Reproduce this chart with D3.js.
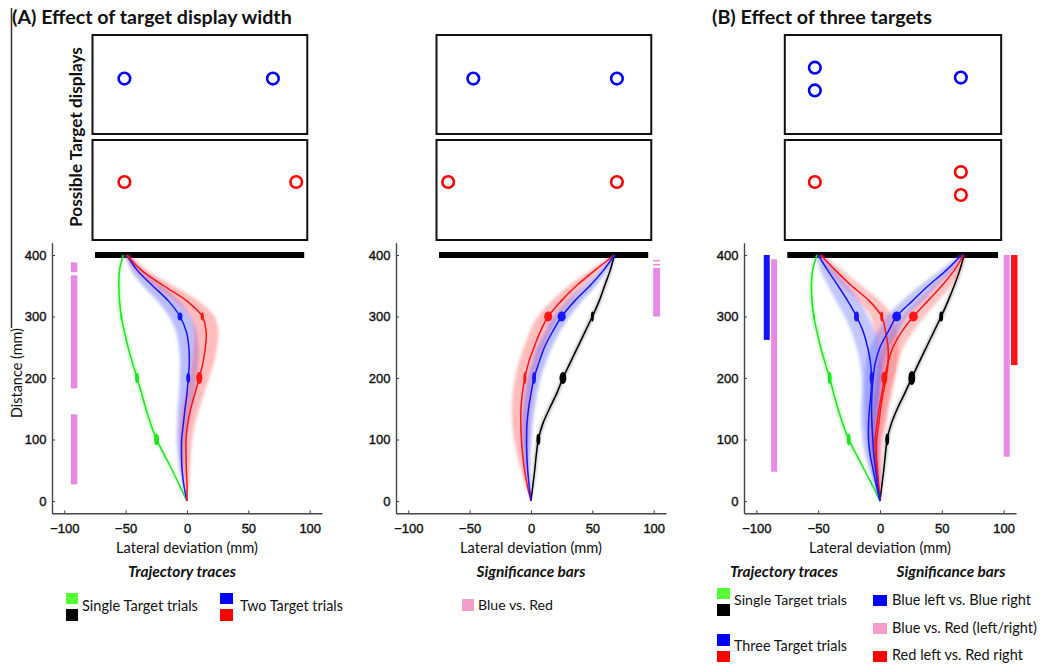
<!DOCTYPE html>
<html><head><meta charset="utf-8">
<script src="https://cdn.jsdelivr.net/npm/d3@7"></script>
<style>body{margin:0;background:#fff}svg{display:block}</style>
</head><body>
<svg id="c" width="1041" height="665"></svg>
<script>
// ---------- DATA ----------
const distances = [0,25,50,75,100,125,150,175,200,225,250,275,300,325,350,375,400];
const xTicks = [-100,-50,0,50,100];
const yTicks = [0,100,200,300,400];

// Panel A (left): single vs two targets
const greenA = [0,-6,-12,-18.5,-24.8,-29.5,-33.5,-37,-40.7,-44.5,-48,-51,-53.5,-55,-55.5,-55,-52];
const blueA  = [0,-2.5,-4,-4.5,-4.4,-3,-1.6,0,1,1.9,1.5,-0.5,-5.7,-15,-28,-40.5,-49];
const redA   = [0,0,-0.5,-0.8,-0.8,0.5,3,6.5,10,13,15,15.6,12.5,0,-19,-37,-49];
const blueAci = [0,1,2,3,4,5,6,6.5,7,7.5,8,8.5,9,9,8,5,2];
const redAci  = [0,1.5,3,4,5,6,7,7.5,8,9,9.5,10,10,9.5,8,5,2];

// Panel A (right)
const blackM = [0,1.5,3,4.3,6,9.5,15,21,26,32,38,44,50,55.5,60,64.5,68];
const redM   = [0,-3,-5.2,-6.8,-7.8,-8.3,-8.2,-7,-5,-2,2.5,7.5,14,24.5,37,52,68];
const blueM  = [0,-1.5,-2.7,-3.4,-3.6,-3.3,-2,0,2.5,6.5,11,17.5,25,35.5,48,59,68];
const redMci  = [0,1.5,3,4.5,6,7,7.5,8,8,8,8.5,8.5,8.5,8,6,4,1];
const blueMci = [0,1,2,3,4,4.5,5,5,5.5,5.5,6,6,6.5,6,5,3,1];

// Panel B
const greenB = [0,-6,-12.5,-19,-25.3,-30,-34,-37.5,-40.7,-44.5,-48,-51,-53.5,-55,-55.5,-54.5,-51];
const blackB = [0,1.5,3,4.3,5.8,9,14,20,25.7,31.5,37.5,43.5,49.5,55,60,64.5,68];
const blueLB = [0,-3,-5.5,-8,-9.3,-9.3,-8.5,-7.3,-6.8,-7.7,-10,-13.5,-19,-26,-34,-42.3,-50];
const blueRB = [0,-2,-3.5,-5,-5.8,-6.5,-6.8,-6.5,-5.5,-3.8,0,6.5,13.5,26,39,53.5,66];
const redLB  = [0,-1,-2,-2.8,-2.7,-1,0.5,2.5,5,6.5,6.5,4.5,1.4,-8.5,-23,-36,-48];
const redRB  = [0,-1.2,-2.5,-3.5,-4,-2.5,-0.8,1.5,3.5,6.5,10.5,17.5,27,38.5,50,60,67.5];
const blueLBci = [0,1.5,3,4,5,6,7,7.5,8,8.5,9,9.5,9.5,9.5,8,6,2];
const blueRBci = [0,1.5,3,4,5,5.5,6,6.5,7,7.5,8,8.5,8.5,8.5,7,5,2];
const redLBci  = [0,1.5,3,4,5,6,6.5,7,7.5,8,8.5,9,9,9,8,6,2];
const redRBci  = [0,1.5,3,4,5,6,6.5,7,7.5,8,8.5,9,9,8.5,7.5,5.5,2];
const singleCi = [0,0.8,1,1.2,1.3,1.4,1.5,1.5,1.5,1.5,1.5,1.5,1.5,1.4,1.3,1.1,0.8];

// Marker spreads at 100/200/300 mm: [distance, sdX (mm), sdY (mm)]
const greenAmk = [[100,2.0,9.8],[200,1.6,8.1],[300,0.8,4.9]];
const blueAmk  = [[200,1.6,8.1],[300,2.0,6.5]];
const redAmk   = [[200,2.5,9.8],[300,1.2,6.5]];
const blackMmk = [[100,1.6,8.9],[200,2.8,9.8],[300,1.2,8.1]];
const redMmk   = [[200,1.2,9.8],[300,3.3,8.1]];
const blueMmk  = [[200,1.6,9.8],[300,3.3,8.1]];
const greenBmk = [[100,1.6,9.8],[200,1.6,9.8],[300,0.8,5]];
const blackBmk = [[100,1.6,9.8],[200,2.8,11.4],[300,1.6,8.1]];
const blueLBmk = [[200,1.6,10.5],[300,2.0,8.1]];
const redLBmk  = [[300,1.2,8.1]];
const blueRBmk = [[300,3.6,8.1]];
const redRBmk  = [[200,2.4,10.5],[300,3.6,8.1]];

// Significance bars: [lateral position, from distance, to distance]
const sigPinkA = [[-92,388,372],[-92,367,183],[-92,141,27]];
const sigPinkM = [[102.4,392,389.5],[102.4,385.5,383],[102.4,379,300]];
const sigBlueB = [[-91.6,400,262]];
const sigPinkB = [[-85.6,393,47.6],[102.5,400,72]];
const sigRedB  = [[108.6,400,221]];

// Start bar (lateral extent at 400 mm)
const startBar = [-75,95.5];
// Target display box extent (mm) and targets [lateral mm, % of box height]
const boxExtent = [-77,98];
const targetsA_blue = [[-51,44],[70,44]];
const targetsA_red  = [[-51,42],[89,42]];
const targetsM_blue = [[-47,44],[70,44]];
const targetsM_red  = [[-67.5,42],[70,42]];
const targetsB_blue = [[-52.7,33],[-52.7,56],[65.4,43]];
const targetsB_red  = [[-52.7,42],[65.4,32],[65.4,55]];

// ---------- STYLE ----------
const C = {green:'#1ee61e', black:'#000', blue:'#1414ff', red:'#ff1414',
  blueBand:'#5a64ff', redBand:'#ff5a5a', sigPink:'#e68ae6', legPink:'#f59ccb', greenSw:'#55ff33'};
const TXT = 'Lato, "Open Sans", sans-serif';
const NUM = '"Liberation Sans", Arial, sans-serif';

const svg = d3.select('#c');
svg.append('rect').attr('width',1041).attr('height',665).attr('fill','#fff');
const defs = svg.append('defs');
defs.append('filter').attr('id','blur').attr('x','-50%').attr('y','-10%').attr('width','200%').attr('height','120%')
  .append('feGaussianBlur').attr('stdDeviation',1.6);
defs.append('filter').attr('id','soft').attr('x','-50%').attr('y','-10%').attr('width','200%').attr('height','120%')
  .append('feGaussianBlur').attr('stdDeviation',0.45);

const yS = d3.scaleLinear().domain([-20,420]).range([513.3,242.7]);
const boxRows = [[35,134],[140,240]];

function fit(sel, w){
  const n = sel.node(); const fs = parseFloat(sel.attr('font-size'));
  const cur = n.getComputedTextLength(); sel.attr('font-size', (fs*w/cur).toFixed(2));
  return sel;
}

const panels = [
 {range:[52,322], series:[
   {x:greenA, ci:singleCi, c:C.green, band:C.green, bo:0.3, mk:greenAmk},
   {x:blueA, ci:blueAci, c:C.blue, band:C.blueBand, bo:0.42, mk:blueAmk},
   {x:redA, ci:redAci, c:C.red, band:C.redBand, bo:0.4, mk:redAmk}],
  sig:[[sigPinkA,C.sigPink,6.5]], tBlue:targetsA_blue, tRed:targetsA_red},
 {range:[396,666], series:[
   {x:blackM, ci:singleCi, c:C.black, band:'#000', bo:0.3, mk:blackMmk},
   {x:redM, ci:redMci, c:C.red, band:C.redBand, bo:0.4, mk:redMmk},
   {x:blueM, ci:blueMci, c:C.blue, band:C.blueBand, bo:0.42, mk:blueMmk}],
  sig:[[sigPinkM,C.sigPink,7]], tBlue:targetsM_blue, tRed:targetsM_red},
 {range:[744,1016], series:[
   {x:greenB, ci:singleCi, c:C.green, band:C.green, bo:0.3, mk:greenBmk},
   {x:blackB, ci:singleCi, c:C.black, band:'#000', bo:0.3, mk:blackBmk},
   {x:redLB, ci:redLBci, c:C.red, band:C.redBand, bo:0.36, mk:redLBmk},
   {x:redRB, ci:redRBci, c:C.red, band:C.redBand, bo:0.36, mk:redRBmk},
   {x:blueLB, ci:blueLBci, c:C.blue, band:C.blueBand, bo:0.36, mk:blueLBmk},
   {x:blueRB, ci:blueRBci, c:C.blue, band:C.blueBand, bo:0.36, mk:blueRBmk}],
  sig:[[sigBlueB,C.blue,6],[sigPinkB,C.sigPink,6],[sigRedB,C.red,6.5]], tBlue:targetsB_blue, tRed:targetsB_red}
];

panels.forEach(p=>{
  const xS = d3.scaleLinear().domain([-110,110]).range(p.range);
  const g = svg.append('g');
  // target display boxes
  boxRows.forEach((r,i)=>{
    g.append('rect').attr('x',xS(boxExtent[0])).attr('y',r[0])
      .attr('width',xS(boxExtent[1])-xS(boxExtent[0])).attr('height',r[1]-r[0])
      .attr('fill','none').attr('stroke','#111').attr('stroke-width',2);
    const dy = d3.scaleLinear().domain([0,100]).range(r);
    const pts = i===0? p.tBlue : p.tRed;
    g.selectAll(null).data(pts).enter().append('circle')
      .attr('cx',d=>xS(d[0])).attr('cy',d=>dy(d[1])).attr('r',5.8)
      .attr('fill','none').attr('stroke', i===0? '#0000ff':'#ff0000').attr('stroke-width',2.6);
  });
  // axes
  const ax = g.append('g').attr('transform',`translate(0,${yS(-20)})`)
    .call(d3.axisBottom(xS).tickValues(xTicks).tickSizeInner(-3).tickSizeOuter(0).tickPadding(10));
  const ay = g.append('g').attr('transform',`translate(${p.range[0]},0)`)
    .call(d3.axisLeft(yS).tickValues(yTicks).tickSizeInner(-3).tickSizeOuter(0).tickPadding(5.5));
  [ax,ay].forEach(a=>{
    a.select('.domain').attr('stroke','#444').attr('stroke-width',1.4);
    a.selectAll('.tick line').attr('stroke','#444');
    a.selectAll('text').attr('font-family',NUM).attr('font-size',13).attr('fill','#111')
      .attr('stroke','#111').attr('stroke-width',0.4);
  });
  // start bar
  g.append('line').attr('x1',xS(startBar[0])).attr('x2',xS(startBar[1]))
    .attr('y1',yS(400)).attr('y2',yS(400)).attr('stroke','#000').attr('stroke-width',6);
  // significance bars
  p.sig.forEach(([bars,col,w])=>{
    g.selectAll(null).data(bars).enter().append('rect')
      .attr('x',d=>xS(d[0])-w/2).attr('width',w)
      .attr('y',d=>yS(d[1])).attr('height',d=>yS(d[2])-yS(d[1]))
      .attr('fill',col);
  });
  const pts = s => distances.map((d,i)=>({y:d, m:s.x[i], s:s.ci[i]}));
  const area = d3.area().x0(d=>xS(d.m-d.s)).x1(d=>xS(d.m+d.s)).y(d=>yS(d.y)).curve(d3.curveCatmullRom);
  const line = d3.line().x(d=>xS(d.m)).y(d=>yS(d.y)).curve(d3.curveCatmullRom);
  const bands = g.append('g').attr('filter','url(#blur)');
  p.series.forEach(s=>{
    bands.append('path').attr('d',area(pts(s))).attr('fill',s.band).attr('fill-opacity',s.bo);
  });
  const lines = g.append('g').attr('filter','url(#soft)');
  p.series.forEach(s=>{
    lines.append('path').attr('d',line(pts(s))).attr('fill','none').attr('stroke',s.c).attr('stroke-width',1.5);
  });
  p.series.forEach(s=>{
    lines.selectAll(null).data(s.mk).enter().append('ellipse')
      .attr('cx',d=>xS(s.x[distances.indexOf(d[0])]))
      .attr('cy',d=>yS(d[0]))
      .attr('rx',d=>xS(d[1])-xS(0))
      .attr('ry',d=>yS(0)-yS(d[2]))
      .attr('fill',s.c);
  });
  // x label
  fit(g.append('text').attr('x',(p.range[0]+p.range[1])/2).attr('y',553)
    .attr('text-anchor','middle').attr('font-family',TXT).attr('font-size',14).attr('fill','#111')
    .text('Lateral deviation  (mm)'), 142);
});

// left frame line
svg.append('line').attr('x1',11.5).attr('x2',11.5).attr('y1',8).attr('y2',328).attr('stroke','#333').attr('stroke-width',1.5);

// titles
fit(svg.append('text').attr('x',12).attr('y',24).attr('font-family',TXT).attr('font-weight',700)
  .attr('font-size',18).attr('fill','#111').text('(A) Effect of target display width'), 280);
fit(svg.append('text').attr('x',712).attr('y',24).attr('font-family',TXT).attr('font-weight',700)
  .attr('font-size',18).attr('fill','#111').text('(B) Effect of three targets'), 220);
fit(svg.append('text').attr('transform','translate(82,137) rotate(-90)').attr('text-anchor','middle')
  .attr('font-family',TXT).attr('font-weight',700).attr('font-size',15).attr('fill','#111')
  .text('Possible Target displays'), 180);
fit(svg.append('text').attr('transform','translate(22,373) rotate(-90)').attr('text-anchor','middle')
  .attr('font-family',TXT).attr('font-size',13).attr('fill','#111').text('Distance (mm)'), 90);

function heading(x, t, w){
  fit(svg.append('text').attr('x',x).attr('y',577).attr('text-anchor','middle').attr('font-family',TXT)
    .attr('font-weight',700).attr('font-style','italic').attr('font-size',14).attr('fill','#111').text(t), w);
}
heading(182,'Trajectory traces',108);
heading(531,'Significance bars',109);
heading(784,'Trajectory traces',108);
heading(951,'Significance bars',109);

function sw(x,y,w,h,col){ svg.append('rect').attr('x',x).attr('y',y).attr('width',w).attr('height',h).attr('fill',col); }
function lt(x,y,t,w){ fit(svg.append('text').attr('x',x).attr('y',y).attr('font-family',TXT).attr('font-size',14)
  .attr('fill','#111').text(t), w); }
// legend A
sw(66,593,12,11,C.greenSw); sw(66,609,12,12,'#000'); lt(82,611,'Single Target trials',116);
sw(220,593,13,11,'#0000ff'); sw(220,609,13,12,'#ff0000'); lt(240,611,'Two Target trials',103);
// legend A right
sw(462,599,12,12,C.legPink); lt(478,610,'Blue vs. Red',75);
// legend B
sw(717,588,13,11,C.greenSw); sw(717,604,13,12,'#000'); lt(734,605,'Single Target trials',113);
sw(717,634,13,12,'#0000ff'); sw(717,651,13,11,'#ff0000'); lt(734,651,'Three Target trials',113);
sw(873,595,14,11,'#0000ff'); lt(892,605,'Blue left vs. Blue right',139);
sw(873,623,14,11,C.legPink); lt(892,633,'Blue vs. Red (left/right)',145);
sw(873,651,14,11,'#ff0000'); lt(892,660,'Red left vs. Red right',131);
</script>
</body></html>
